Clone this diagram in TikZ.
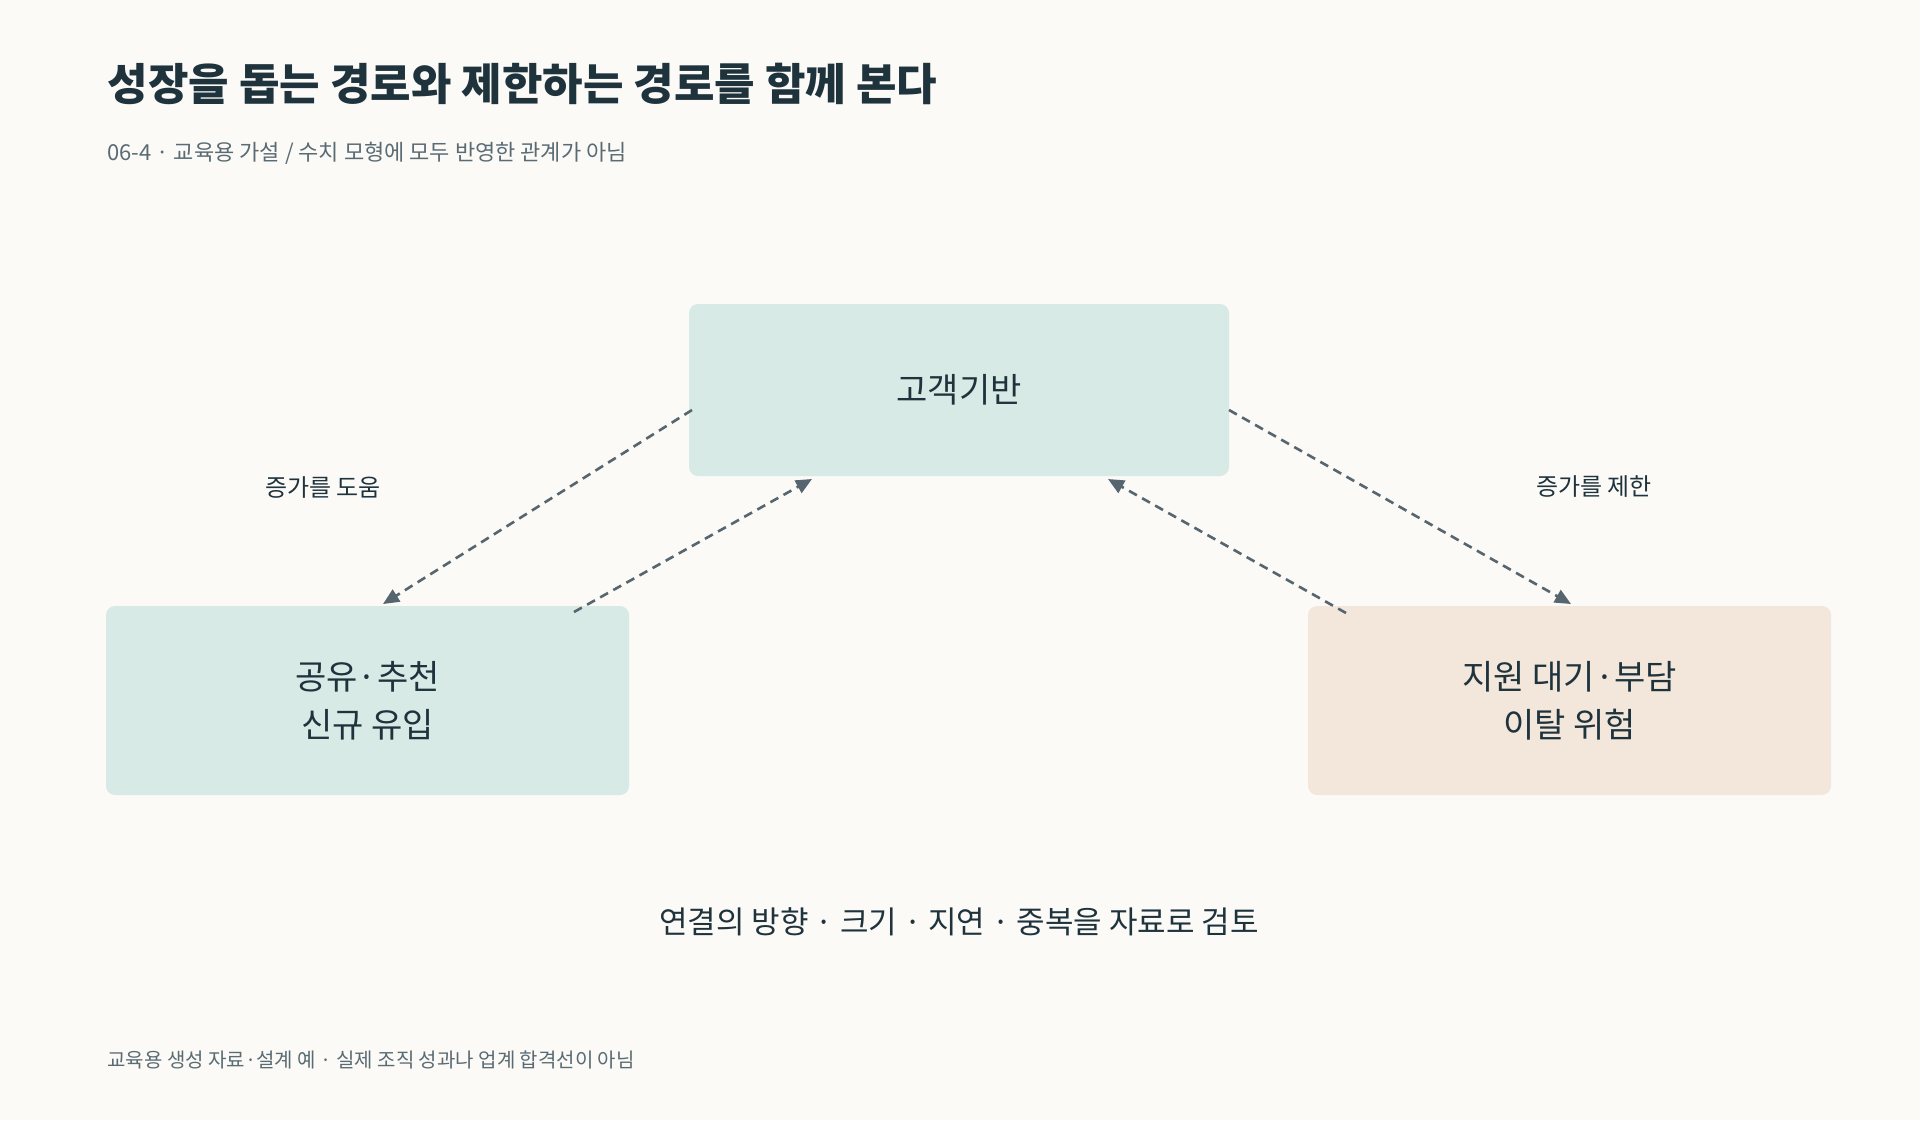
\documentclass[tikz,border=0pt]{standalone}
\usepackage{fontspec}
\setmainfont{Noto Sans CJK KR}
\usetikzlibrary{arrows.meta}
\definecolor{bg}{HTML}{FBFAF7}
\definecolor{teal}{HTML}{D7EAE5}
\definecolor{peach}{HTML}{F3E6DB}
\definecolor{ink}{HTML}{1F333D}
\definecolor{arr}{HTML}{56656E}
\definecolor{sub}{HTML}{5A6B73}
\tikzset{x=1pt,y=-1pt,
 box/.style={rounded corners=9pt,inner sep=0pt,align=center,text=ink,font=\fontsize{34}{48}\selectfont},
 link/.style={draw=arr,line width=2.6pt,dash pattern=on 9pt off 6pt,-{Triangle[length=16pt,width=14pt]}},
 lbl/.style={text=ink,font=\fontsize{24}{28}\selectfont}}
\begin{document}
\begin{tikzpicture}
\fill[bg] (0,0) rectangle (1920,1120);
\useasboundingbox (0,0) rectangle (1920,1120);
\node[anchor=west,text=ink,font=\fontsize{44}{50}\selectfont\bfseries] (title) at (104,84) {성장을 돕는 경로와 제한하는 경로를 함께 본다};
\node[anchor=west,text=sub,font=\fontsize{22}{26}\selectfont] (subt) at (104,153) {06-4 · 교육용 가설 / 수치 모형에 모두 반영한 관계가 아님};
\node[box,fill=teal,minimum width=540pt,minimum height=172pt] (top) at (959,390) {고객기반};
\node[box,fill=teal,minimum width=523pt,minimum height=189pt] (left) at (367.5,700.5) {공유·추천\\신규 유입};
\node[box,fill=peach,minimum width=523pt,minimum height=189pt] (right) at (1569.5,700.5) {지원 대기·부담\\이탈 위험};
\coordinate (a1) at (692,410); \coordinate (a2) at (383,604);
\coordinate (b1) at (574,612); \coordinate (b2) at (812,479);
\coordinate (c1) at (1346,613); \coordinate (c2) at (1108,479);
\coordinate (d1) at (1229,410); \coordinate (d2) at (1571,604);
\draw[link] (a1) -- (a2);
\draw[link] (b1) -- (b2);
\draw[link] (c1) -- (c2);
\draw[link] (d1) -- (d2);
\node[lbl] (l1) at (323,487) {증가를 도움};
\node[lbl] (l2) at (1594,487) {증가를 제한};
\node[text=ink,font=\fontsize{31}{36}\selectfont] (bottom) at (959,922) {연결의 방향 · 크기 · 지연 · 중복을 자료로 검토};
\node[anchor=west,text=sub,font=\fontsize{20}{24}\selectfont] (foot) at (104,1060) {교육용 생성 자료·설계 예 · 실제 조직 성과나 업계 합격선이 아님};
\end{tikzpicture}
\end{document}
